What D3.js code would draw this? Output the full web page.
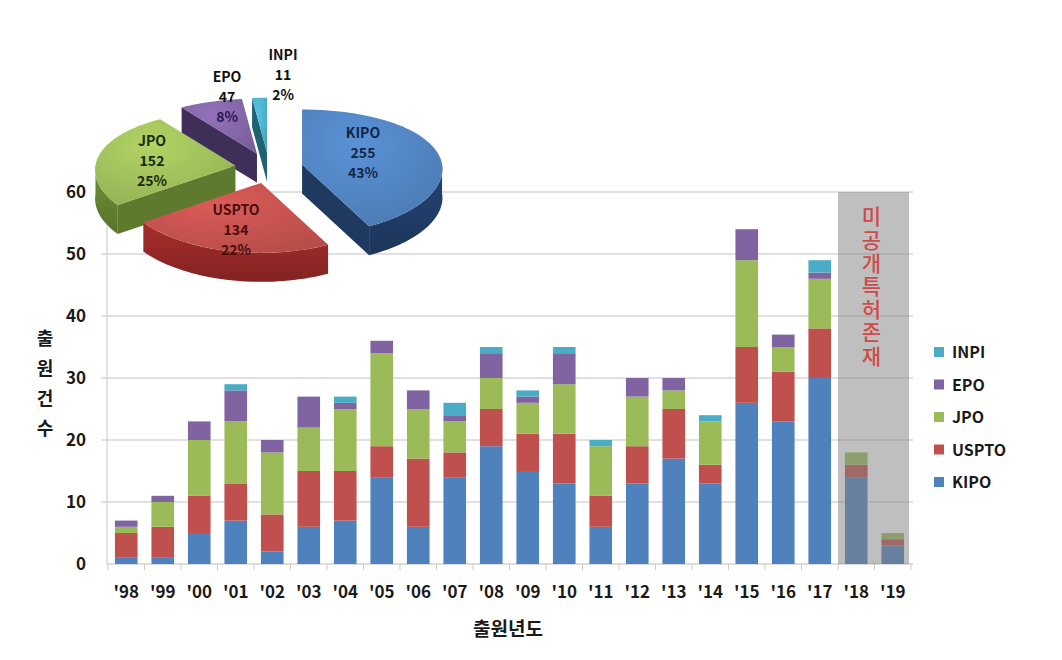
<!DOCTYPE html>
<html><head><meta charset="utf-8">
<script src="https://cdn.jsdelivr.net/npm/d3@7"></script>
<style>
html,body{margin:0;padding:0;background:#fff;}
svg{display:block;font-family:"Noto Sans CJK KR","Noto Sans",sans-serif;}
.vt{writing-mode:vertical-rl;text-orientation:upright;}
</style></head>
<body><svg id="c" width="1062" height="660"></svg>
<script>
// ---------------- data ----------------
const years = ["'98","'99","'00","'01","'02","'03","'04","'05","'06","'07","'08","'09","'10","'11","'12","'13","'14","'15","'16","'17","'18","'19"];
const seriesNames = ["KIPO","USPTO","JPO","EPO","INPI"];
const KIPO  = [1,1,5,7,2,6,7,14,6,14,19,15,13,6,13,17,13,26,23,30,14,3];
const USPTO = [4,5,6,6,6,9,8,5,11,4,6,6,8,5,6,8,3,9,8,8,2,1];
const JPO   = [1,4,9,10,10,7,10,15,8,5,5,5,8,8,8,3,7,14,4,8,2,1];
const EPO   = [1,1,3,5,2,5,1,2,3,1,4,1,5,0,3,2,0,5,2,1,0,0];
const INPI  = [0,0,0,1,0,0,1,0,0,2,1,1,1,1,0,0,1,0,0,2,0,0];
const yTicks = [0,10,20,30,40,50,60];
const legendOrder = ["INPI","EPO","JPO","USPTO","KIPO"];
const unpublishedYears = ["'18","'19"];
const unpublishedText = "미공개특허존재";
const pieNames = ["KIPO","USPTO","JPO","EPO","INPI"];
const pieValues = [255,134,152,47,11];
const piePercents = ["43%","22%","25%","8%","2%"];
const yTitle = "출원건수";
const xTitle = "출원년도";

const colors = {KIPO:"#4f81bd",USPTO:"#c0504d",JPO:"#9bbb59",EPO:"#8064a2",INPI:"#4bacc6"};
const sideColors = {KIPO:"#1f3961",USPTO:"#8c2624",JPO:"#5e7a2e",EPO:"#3f2f58",INPI:"#1f6273"};
const labelColors = {KIPO:"#13264a",USPTO:"#4a0c0c",JPO:"#1b2a08",EPO:"#111",INPI:"#111"};

const seriesData = {KIPO,USPTO,JPO,EPO,INPI};
const table = years.map((y,i)=>{const o={year:y}; seriesNames.forEach(s=>o[s]=seriesData[s][i]); return o;});

const svg = d3.select("#c");
const x = d3.scaleBand().domain(years).range([108,911]).paddingInner(0.38).paddingOuter(0.19);
const y = d3.scaleLinear().domain([0,60]).range([564,192]);

// gridlines
svg.append("g").selectAll("line").data(yTicks.filter(t=>t>0)).join("line")
  .attr("x1",101).attr("x2",913).attr("y1",d=>y(d)).attr("y2",d=>y(d))
  .attr("stroke","#d6d6d6").attr("stroke-width",1.5);

// axes lines
svg.append("line").attr("x1",107).attr("x2",107).attr("y1",y(60)).attr("y2",y(0)).attr("stroke","#d0d0d0").attr("stroke-width",1.2);
svg.append("line").attr("x1",107).attr("x2",913).attr("y1",y(0)).attr("y2",y(0)).attr("stroke","#d0d0d0").attr("stroke-width",1.5);
const bounds = years.map(yr=>x(yr)-x.step()*x.paddingInner()/2).concat([x(years[years.length-1])+x.bandwidth()+x.step()*x.paddingInner()/2]);
svg.append("g").selectAll("line").data(bounds).join("line")
  .attr("x1",d=>d).attr("x2",d=>d).attr("y1",y(0)).attr("y2",y(0)+6).attr("stroke","#d8c9b0").attr("stroke-width",1);

// stacked bars
const stack = d3.stack().keys(seriesNames)(table);
svg.append("g").selectAll("g").data(stack).join("g").attr("fill",d=>colors[d.key])
  .selectAll("rect").data(d=>d).join("rect")
  .attr("x",d=>x(d.data.year)).attr("width",x.bandwidth())
  .attr("y",d=>y(d[1])).attr("height",d=>Math.max(0,y(d[0])-y(d[1])));

// unpublished overlay
const gx0 = x(unpublishedYears[0]) - x.step()*x.paddingInner()/2;
const gx1 = x(unpublishedYears[unpublishedYears.length-1]) + x.bandwidth() + x.step()*x.paddingInner()/2 - 2;
svg.append("rect").attr("x",gx0).attr("y",y(60)).attr("width",gx1-gx0).attr("height",y(0)-y(60))
  .attr("fill","#808080").attr("opacity",0.5);
svg.append("text").attr("class","vt").attr("x",(gx0+gx1)/2-2).attr("y",y(60)+14)
  .attr("fill","#cf4a4a").attr("font-size",21).attr("font-weight",500)
  .attr("letter-spacing",2.2).text(unpublishedText);

// y tick labels
svg.append("g").selectAll("text").data(yTicks).join("text")
  .attr("x",86).attr("y",d=>y(d)+6).attr("text-anchor","end")
  .attr("font-size",17).attr("font-weight",700).attr("fill","#1a1a1a").text(d=>d);
// x tick labels
svg.append("g").selectAll("text").data(years).join("text")
  .attr("x",d=>x(d)+x.bandwidth()/2).attr("y",598).attr("text-anchor","middle")
  .attr("font-size",17).attr("font-weight",700).attr("fill","#1a1a1a").text(d=>d);
// axis titles
svg.append("text").attr("class","vt").attr("x",45).attr("y",329)
  .attr("font-size",18).attr("font-weight",700).attr("fill","#1a1a1a")
  .attr("letter-spacing",12).text(yTitle);
svg.append("text").attr("x",508).attr("y",636).attr("text-anchor","middle").attr("font-size",19).attr("font-weight",700).attr("fill","#1a1a1a").text(xTitle);

// legend
const lg = svg.append("g");
legendOrder.forEach((s,i)=>{
  const ly = 352 + i*32.5;
  lg.append("rect").attr("x",934).attr("y",ly-5).attr("width",10).attr("height",10).attr("fill",colors[s]);
  lg.append("text").attr("x",952).attr("y",ly+6).attr("font-size",16).attr("font-weight",700).attr("fill","#1a1a1a").text(s);
});

// ---------------- 3D exploded pie ----------------
const C = {x:269, y:168}, rxB = 130, rxF = 150, ryB = 55, ryF = 70, depth = 29, explode = 34, k = 0.45;
const arcs = d3.pie().sort(null).value(d=>d)(pieValues);
const defs = svg.append("defs");
const pg = svg.append("g");
const line = d3.line();

const slices = arcs.map((a,i)=>{
  const name = pieNames[i];
  const m = (a.startAngle+a.endAngle)/2;
  const ax = C.x + explode*Math.sin(m), ay = C.y - explode*k*Math.cos(m);
  const P = (t,dy=0)=>{
    const f = (1-Math.cos(t))/2;
    const rx = rxB + (rxF-rxB)*f, ry = ryB + (ryF-ryB)*f;
    return [ax + rx*Math.sin(t), ay - ry*Math.cos(t) + dy];
  };
  return {name,a,m,ax,ay,P,i};
});
const order = slices.slice().sort((p,q)=>p.ay-q.ay);
order.forEach(s=>{
  const {a,P,ax,ay,name} = s;
  const g = pg.append("g");
  const gid = "g"+name;
  const grad = defs.append("radialGradient").attr("id",gid).attr("cx","40%").attr("cy","30%").attr("r","80%");
  grad.append("stop").attr("offset","0%").attr("stop-color",d3.color(colors[name]).brighter(0.35));
  grad.append("stop").attr("offset","100%").attr("stop-color",d3.color(colors[name]).darker(0.15));
  const sgid = "s"+name;
  const sgrad = defs.append("linearGradient").attr("id",sgid).attr("x1",0).attr("y1",0).attr("x2",0).attr("y2",1);
  sgrad.append("stop").attr("offset","0%").attr("stop-color",d3.color(sideColors[name]).brighter(0.5));
  sgrad.append("stop").attr("offset","100%").attr("stop-color",d3.color(sideColors[name]).darker(0.2));
  if (-Math.sin(a.startAngle) > 0.01) {
    const p = P(a.startAngle);
    g.append("path").attr("d",line([[ax,ay],p,[p[0],p[1]+depth],[ax,ay+depth]])+"Z").attr("fill",sideColors[name]);
  }
  if (Math.sin(a.endAngle) > 0.01) {
    const p = P(a.endAngle);
    g.append("path").attr("d",line([[ax,ay],p,[p[0],p[1]+depth],[ax,ay+depth]])+"Z").attr("fill",sideColors[name]);
  }
  const w0 = Math.max(a.startAngle, Math.PI/2), w1 = Math.min(a.endAngle, 3*Math.PI/2);
  if (w1 > w0) {
    const ts = d3.range(0,41).map(j=>w0+(w1-w0)*j/40);
    const pts = ts.map(t=>P(t)).concat(ts.slice().reverse().map(t=>P(t,depth)));
    g.append("path").attr("d",line(pts)+"Z").attr("fill",`url(#${sgid})`);
  }
  const ts = d3.range(0,61).map(j=>a.startAngle+(a.endAngle-a.startAngle)*j/60);
  g.append("path").attr("d",line([[ax,ay]].concat(ts.map(t=>P(t))))+"Z").attr("fill",`url(#${gid})`);
});

// pie labels
const labelAt = {KIPO:[94,-15],USPTO:[-33,62],JPO:[-117,-7],EPO:[-42,-71],INPI:[14,-93]};
slices.forEach(s=>{
  const [dx,dy] = labelAt[s.name];
  const lines = [s.name, String(pieValues[s.i]), piePercents[s.i]];
  const tg = pg.append("g").attr("text-anchor","middle").attr("font-size",14).attr("font-weight",700);
  lines.forEach((t,j)=>{
    let col = labelColors[s.name];
    if (s.name==="EPO" && j===2) col = "#2b1850";
    tg.append("text").attr("x",C.x+dx).attr("y",C.y+dy-15+j*20).attr("fill",col).text(t);
  });
});
</script></body></html>
